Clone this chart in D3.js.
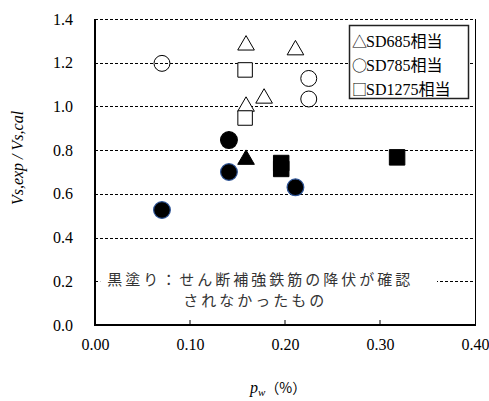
<!DOCTYPE html>
<html>
<head>
<meta charset="utf-8">
<script src="https://cdn.jsdelivr.net/npm/d3@7"></script>
<style>
  body { margin: 0; background: #fff; }
  svg { display: block; }
</style>
</head>
<body>
<script>
// values
const xTicks = [0.0, 0.1, 0.2, 0.3, 0.4];
const yTicks = [0.0, 0.2, 0.4, 0.6, 0.8, 1.0, 1.2, 1.4];

const sd685OpenPw = [0.159, 0.211, 0.159, 0.178];
const sd685OpenRatio = [1.28, 1.258, 1.0, 1.037];
const sd685FilledPw = [0.159];
const sd685FilledRatio = [0.757];

const sd785OpenPw = [0.0705, 0.225, 0.225];
const sd785OpenRatio = [1.197, 1.128, 1.034];
const sd785FilledPw = [0.141, 0.141, 0.0705, 0.211];
const sd785FilledRatio = [0.846, 0.70, 0.526, 0.63];
const sd785FilledEdge = ['#000', '#2f5597', '#2f5597', '#2f5597'];

const sd1275OpenPw = [0.158, 0.158];
const sd1275OpenRatio = [1.167, 0.947];
const sd1275FilledPw = [0.196, 0.196, 0.318];
const sd1275FilledRatio = [0.741, 0.714, 0.767];

const legendSymbols = ['\u25B3', '\u25CB', '\u25A1'];
const legendLabels = ['SD685相当', 'SD785相当', 'SD1275相当'];
const noteLines = ['黒塗り：せん断補強鉄筋の降伏が確認', 'されなかったもの'];

const W = 489, H = 401;
const M = { left: 95, right: 14, top: 19, bottom: 76 };
const SERIF = '"Liberation Serif", "Times New Roman", serif';
const CJK = '"Noto Sans CJK JP", sans-serif';

const svg = d3.select('body').append('svg')
    .attr('width', W)
    .attr('height', H);

const x = d3.scaleLinear().domain([0, 0.4]).range([M.left, W - M.right]);
const y = d3.scaleLinear().domain([0, 1.4]).range([H - M.bottom, M.top]);

// dashed gridlines
svg.append('g')
    .selectAll('line')
    .data(yTicks.filter(d => d > 0))
    .join('line')
    .attr('x1', x(0))
    .attr('x2', x(0.4))
    .attr('y1', d => Math.round(y(d)) + 0.5)
    .attr('y2', d => Math.round(y(d)) + 0.5)
    .attr('stroke', '#000')
    .attr('stroke-width', 1)
    .attr('stroke-dasharray', '3,2');

// right border
svg.append('line')
    .attr('x1', x(0.4) + 0.5).attr('x2', x(0.4) + 0.5)
    .attr('y1', y(1.4)).attr('y2', y(0))
    .attr('stroke', '#000')
    .attr('stroke-width', 1);

// note box (covers the 0.2 gridline)
const note = svg.append('g');
note.append('rect')
    .attr('x', x(0.0055))
    .attr('y', y(0.28))
    .attr('width', x(0.36) - x(0.0055))
    .attr('height', y(0.01) - y(0.28))
    .attr('fill', '#fff');
note.selectAll('text')
    .data(noteLines)
    .join('text')
    .attr('x', (d, i) => i === 0 ? x(0.013) : x(0.093))
    .attr('y', (d, i) => y(0.2) + 4 + i * 21)
    .style('font-family', CJK)
    .style('font-size', '15px')
    .style('letter-spacing', '3px')
    .attr('fill', '#333')
    .text(d => d);

// axes
const xAxis = d3.axisBottom(x)
    .tickValues(xTicks)
    .tickSize(0)
    .tickPadding(14)
    .tickFormat(d3.format('.2f'));
const gx = svg.append('g')
    .attr('transform', `translate(0,${y(0)})`)
    .call(xAxis)
    .attr('font-family', null)
    .attr('font-size', null);
gx.select('.domain').remove();
gx.selectAll('text')
    .style('font-family', SERIF)
    .style('font-size', '16px')
    .attr('fill', '#000');

// inward x ticks
svg.append('g')
    .selectAll('line')
    .data(xTicks.slice(1, -1))
    .join('line')
    .attr('x1', d => x(d)).attr('x2', d => x(d))
    .attr('y1', y(0)).attr('y2', y(0) - 5)
    .attr('stroke', '#000')
    .attr('stroke-width', 1);

const yAxis = d3.axisLeft(y)
    .tickValues(yTicks)
    .tickSize(0)
    .tickPadding(22)
    .tickFormat(d3.format('.1f'));
const gy = svg.append('g')
    .attr('transform', `translate(${x(0)},0)`)
    .call(yAxis)
    .attr('font-family', null)
    .attr('font-size', null);
gy.select('.domain').remove();
gy.selectAll('text')
    .style('font-family', SERIF)
    .style('font-size', '16px')
    .attr('fill', '#000');

// axis lines
svg.append('path')
    .attr('d', `M${x(0)},${y(1.4)}V${y(0)}H${x(0.4) + 1}`)
    .attr('fill', 'none')
    .attr('stroke', '#000')
    .attr('stroke-width', 2);

// axis titles
svg.append('text')
    .attr('transform', `translate(23,${(y(0) + y(1.4)) / 2 - 14}) rotate(-90)`)
    .attr('text-anchor', 'middle')
    .style('font-family', SERIF)
    .style('font-style', 'italic')
    .style('font-size', '16px')
    .text('Vs,exp / Vs,cal');

const xt = svg.append('text')
    .attr('x', 250)
    .attr('y', 393)
    .style('font-family', SERIF)
    .style('font-size', '16px');
xt.append('tspan').style('font-style', 'italic').text('p');
xt.append('tspan').style('font-style', 'italic').style('font-size', '11px').attr('dy', 3).text('w');
xt.append('tspan').attr('dy', -3).style('font-family', CJK)
    .style('font-size', '14px').text('（%）');

// markers
const pts = (pw, ratio) => pw.map((p, i) => ({ pw: p, ratio: ratio[i], i }));
const marks = svg.append('g');

function drawSymbols(data, type, size, fill, stroke, strokeW) {
    marks.append('g')
        .selectAll('path')
        .data(data)
        .join('path')
        .attr('transform', d => `translate(${x(d.pw)},${y(d.ratio)})`)
        .attr('d', d3.symbol().type(type).size(size))
        .attr('fill', fill)
        .attr('stroke', typeof stroke === 'function' ? d => stroke(d) : stroke)
        .attr('stroke-width', strokeW);
}

drawSymbols(pts(sd685OpenPw, sd685OpenRatio), d3.symbolTriangle, 120, '#fff', '#000', 1);
drawSymbols(pts(sd785OpenPw, sd785OpenRatio), d3.symbolCircle, 200, 'none', '#000', 1);
drawSymbols(pts(sd1275OpenPw, sd1275OpenRatio), d3.symbolSquare, 210, '#fff', '#000', 1);
drawSymbols(pts(sd685FilledPw, sd685FilledRatio), d3.symbolTriangle, 120, '#000', '#000', 1);
drawSymbols(pts(sd785FilledPw, sd785FilledRatio), d3.symbolCircle, 220, '#000', d => sd785FilledEdge[d.i], 1.2);
drawSymbols(pts(sd1275FilledPw, sd1275FilledRatio), d3.symbolSquare, 240, '#000', '#000', 1);

// legend
const lg = svg.append('g');
lg.append('rect')
    .attr('x', 349.5)
    .attr('y', 25.5)
    .attr('width', 119)
    .attr('height', 73)
    .attr('fill', '#fff')
    .attr('stroke', '#222')
    .attr('stroke-width', 1.5);
const lt = lg.selectAll('text')
    .data(legendLabels)
    .join('text')
    .attr('x', 352)
    .attr('y', (d, i) => 47 + i * 24)
    .style('font-size', '16px');
lt.append('tspan')
    .style('font-family', CJK)
    .style('font-size', '15px')
    .text((d, i) => legendSymbols[i]);
lt.append('tspan')
    .attr('dx', -1)
    .style('font-family', SERIF + ', "Noto Sans CJK JP"')
    .text(d => d);
</script>
</body>
</html>
